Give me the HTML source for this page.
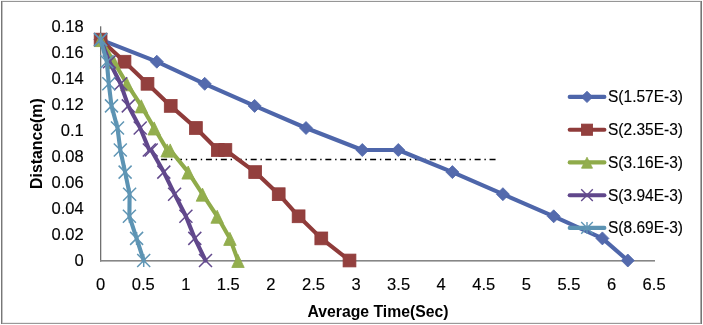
<!DOCTYPE html>
<html><head><meta charset="utf-8"><title>Chart</title>
<style>
html,body{margin:0;padding:0;background:#fff;}
body{width:703px;height:325px;overflow:hidden;font-family:"Liberation Sans",sans-serif;}
svg{display:block;will-change:transform;}
</style></head><body>
<svg width="703" height="325" viewBox="0 0 703 325">
<rect x="0" y="0" width="703" height="325" fill="#fff"/>
<g shape-rendering="crispEdges">
<rect x="1" y="0" width="701" height="1" fill="#f2f2f2"/>
<rect x="1" y="1" width="701" height="1" fill="#969696"/>
<rect x="1" y="322" width="701" height="1" fill="#ececec"/>
<rect x="1" y="323" width="701" height="1" fill="#999999"/>
<rect x="1" y="1" width="1" height="323" fill="#777777"/>
<rect x="2" y="2" width="1" height="321" fill="#c4c4c4"/>
<rect x="700" y="2" width="1" height="321" fill="#ababab"/>
<rect x="701" y="1" width="1" height="323" fill="#757575"/>
</g>
<rect x="100" y="26.3" width="1.3" height="235.3" fill="#707070"/>
<rect x="100" y="260" width="555" height="1.6" fill="#868686"/>
<line x1="161.1" y1="159.5" x2="495.8" y2="159.5" stroke="#000" stroke-width="1.5" stroke-dasharray="6,3.8,1.4,3.73"/>
<polyline points="100.6,39.6 156.8,61.7 204.7,83.8 254.6,105.9 306.0,128.0 362.3,150.0 398.3,150.0 452.4,172.1 502.9,194.2 553.7,216.3 602.4,238.4 627.8,260.5" fill="none" stroke="#4e66aa" stroke-width="4.1" stroke-linejoin="round" stroke-linecap="round"/>
<path d="M100.6,33.1 L107.1,39.6 L100.6,46.1 L94.1,39.6Z" fill="#546aad" stroke="#4e66aa" stroke-width="0.8"/>
<path d="M156.8,55.2 L163.3,61.7 L156.8,68.2 L150.3,61.7Z" fill="#546aad" stroke="#4e66aa" stroke-width="0.8"/>
<path d="M204.7,77.3 L211.2,83.8 L204.7,90.3 L198.2,83.8Z" fill="#546aad" stroke="#4e66aa" stroke-width="0.8"/>
<path d="M254.6,99.4 L261.1,105.9 L254.6,112.4 L248.1,105.9Z" fill="#546aad" stroke="#4e66aa" stroke-width="0.8"/>
<path d="M306.0,121.5 L312.5,128.0 L306.0,134.5 L299.5,128.0Z" fill="#546aad" stroke="#4e66aa" stroke-width="0.8"/>
<path d="M362.3,143.5 L368.8,150.0 L362.3,156.5 L355.8,150.0Z" fill="#546aad" stroke="#4e66aa" stroke-width="0.8"/>
<path d="M398.3,143.5 L404.8,150.0 L398.3,156.5 L391.8,150.0Z" fill="#546aad" stroke="#4e66aa" stroke-width="0.8"/>
<path d="M452.4,165.6 L458.9,172.1 L452.4,178.6 L445.9,172.1Z" fill="#546aad" stroke="#4e66aa" stroke-width="0.8"/>
<path d="M502.9,187.7 L509.4,194.2 L502.9,200.7 L496.4,194.2Z" fill="#546aad" stroke="#4e66aa" stroke-width="0.8"/>
<path d="M553.7,209.8 L560.2,216.3 L553.7,222.8 L547.2,216.3Z" fill="#546aad" stroke="#4e66aa" stroke-width="0.8"/>
<path d="M602.4,231.9 L608.9,238.4 L602.4,244.9 L595.9,238.4Z" fill="#546aad" stroke="#4e66aa" stroke-width="0.8"/>
<path d="M627.8,254.0 L634.3,260.5 L627.8,267.0 L621.3,260.5Z" fill="#546aad" stroke="#4e66aa" stroke-width="0.8"/>
<polyline points="100.6,39.6 124.5,61.7 147.5,83.8 170.7,105.9 195.9,128.0 217.8,150.0 225.4,150.0 255.2,172.1 278.7,194.2 298.6,216.3 321.3,238.4 349.5,260.5" fill="none" stroke="#8f3b3a" stroke-width="4.1" stroke-linejoin="round" stroke-linecap="round"/>
<rect x="94.2" y="33.2" width="12.8" height="12.8" fill="#93403e" stroke="#8f3b3a" stroke-width="0.8"/>
<rect x="118.1" y="55.3" width="12.8" height="12.8" fill="#93403e" stroke="#8f3b3a" stroke-width="0.8"/>
<rect x="141.1" y="77.4" width="12.8" height="12.8" fill="#93403e" stroke="#8f3b3a" stroke-width="0.8"/>
<rect x="164.3" y="99.5" width="12.8" height="12.8" fill="#93403e" stroke="#8f3b3a" stroke-width="0.8"/>
<rect x="189.5" y="121.6" width="12.8" height="12.8" fill="#93403e" stroke="#8f3b3a" stroke-width="0.8"/>
<rect x="211.4" y="143.6" width="12.8" height="12.8" fill="#93403e" stroke="#8f3b3a" stroke-width="0.8"/>
<rect x="219.0" y="143.6" width="12.8" height="12.8" fill="#93403e" stroke="#8f3b3a" stroke-width="0.8"/>
<rect x="248.8" y="165.7" width="12.8" height="12.8" fill="#93403e" stroke="#8f3b3a" stroke-width="0.8"/>
<rect x="272.3" y="187.8" width="12.8" height="12.8" fill="#93403e" stroke="#8f3b3a" stroke-width="0.8"/>
<rect x="292.2" y="209.9" width="12.8" height="12.8" fill="#93403e" stroke="#8f3b3a" stroke-width="0.8"/>
<rect x="314.9" y="232.0" width="12.8" height="12.8" fill="#93403e" stroke="#8f3b3a" stroke-width="0.8"/>
<rect x="343.1" y="254.1" width="12.8" height="12.8" fill="#93403e" stroke="#8f3b3a" stroke-width="0.8"/>
<polyline points="100.6,39.6 113.8,61.7 126.9,83.8 141.3,105.9 154.2,128.0 167.2,150.0 170.2,150.0 188.2,172.1 202.5,194.2 217.2,216.3 229.9,238.4 238.0,260.5" fill="none" stroke="#8fab4a" stroke-width="4.1" stroke-linejoin="round" stroke-linecap="round"/>
<path d="M100.6,33.5 L106.8,46.6 L94.3,46.6Z" fill="#93ae4e" stroke="#8fab4a" stroke-width="0.8"/>
<path d="M113.8,55.6 L120.0,68.7 L107.5,68.7Z" fill="#93ae4e" stroke="#8fab4a" stroke-width="0.8"/>
<path d="M126.9,77.7 L133.2,90.8 L120.7,90.8Z" fill="#93ae4e" stroke="#8fab4a" stroke-width="0.8"/>
<path d="M141.3,99.8 L147.6,112.9 L135.1,112.9Z" fill="#93ae4e" stroke="#8fab4a" stroke-width="0.8"/>
<path d="M154.2,121.9 L160.4,135.0 L147.9,135.0Z" fill="#93ae4e" stroke="#8fab4a" stroke-width="0.8"/>
<path d="M167.2,143.9 L173.4,157.0 L160.9,157.0Z" fill="#93ae4e" stroke="#8fab4a" stroke-width="0.8"/>
<path d="M170.2,143.9 L176.4,157.0 L163.9,157.0Z" fill="#93ae4e" stroke="#8fab4a" stroke-width="0.8"/>
<path d="M188.2,166.0 L194.4,179.1 L181.9,179.1Z" fill="#93ae4e" stroke="#8fab4a" stroke-width="0.8"/>
<path d="M202.5,188.1 L208.8,201.2 L196.2,201.2Z" fill="#93ae4e" stroke="#8fab4a" stroke-width="0.8"/>
<path d="M217.2,210.2 L223.4,223.3 L210.9,223.3Z" fill="#93ae4e" stroke="#8fab4a" stroke-width="0.8"/>
<path d="M229.9,232.3 L236.2,245.4 L223.7,245.4Z" fill="#93ae4e" stroke="#8fab4a" stroke-width="0.8"/>
<path d="M238.0,254.4 L244.2,267.5 L231.8,267.5Z" fill="#93ae4e" stroke="#8fab4a" stroke-width="0.8"/>
<polyline points="100.6,39.6 109.4,61.7 120.6,83.8 128.3,105.9 140.2,128.0 149.3,150.0 151.2,150.0 163.8,172.1 174.6,194.2 185.9,216.3 194.8,238.4 205.5,260.5" fill="none" stroke="#60478b" stroke-width="4.1" stroke-linejoin="round" stroke-linecap="round"/>
<path d="M94.1,33.1 L107.1,46.1 M94.1,46.1 L107.1,33.1" stroke="#634a8d" stroke-width="1.5" fill="none"/>
<path d="M102.9,55.2 L115.9,68.2 M102.9,68.2 L115.9,55.2" stroke="#634a8d" stroke-width="1.5" fill="none"/>
<path d="M114.1,77.3 L127.1,90.3 M114.1,90.3 L127.1,77.3" stroke="#634a8d" stroke-width="1.5" fill="none"/>
<path d="M121.8,99.4 L134.8,112.4 M121.8,112.4 L134.8,99.4" stroke="#634a8d" stroke-width="1.5" fill="none"/>
<path d="M133.7,121.5 L146.7,134.5 M133.7,134.5 L146.7,121.5" stroke="#634a8d" stroke-width="1.5" fill="none"/>
<path d="M142.8,143.5 L155.8,156.5 M142.8,156.5 L155.8,143.5" stroke="#634a8d" stroke-width="1.5" fill="none"/>
<path d="M144.7,143.5 L157.7,156.5 M144.7,156.5 L157.7,143.5" stroke="#634a8d" stroke-width="1.5" fill="none"/>
<path d="M157.3,165.6 L170.3,178.6 M157.3,178.6 L170.3,165.6" stroke="#634a8d" stroke-width="1.5" fill="none"/>
<path d="M168.1,187.7 L181.1,200.7 M168.1,200.7 L181.1,187.7" stroke="#634a8d" stroke-width="1.5" fill="none"/>
<path d="M179.4,209.8 L192.4,222.8 M179.4,222.8 L192.4,209.8" stroke="#634a8d" stroke-width="1.5" fill="none"/>
<path d="M188.3,231.9 L201.3,244.9 M188.3,244.9 L201.3,231.9" stroke="#634a8d" stroke-width="1.5" fill="none"/>
<path d="M199.0,254.0 L212.0,267.0 M199.0,267.0 L212.0,254.0" stroke="#634a8d" stroke-width="1.5" fill="none"/>
<polyline points="100.6,39.6 106.8,61.7 108.8,83.8 111.5,105.9 117.5,128.0 120.3,150.0 125.1,172.1 129.6,194.2 129.4,216.3 136.6,238.4 143.7,260.5" fill="none" stroke="#5c93b3" stroke-width="4.1" stroke-linejoin="round" stroke-linecap="round"/>
<path d="M94.1,33.1 L107.1,46.1 M94.1,46.1 L107.1,33.1 M100.6,33.1 L100.6,46.1" stroke="#6096b5" stroke-width="1.5" fill="none"/>
<path d="M100.3,55.2 L113.3,68.2 M100.3,68.2 L113.3,55.2 M106.8,55.2 L106.8,68.2" stroke="#6096b5" stroke-width="1.5" fill="none"/>
<path d="M102.3,77.3 L115.3,90.3 M102.3,90.3 L115.3,77.3 M108.8,77.3 L108.8,90.3" stroke="#6096b5" stroke-width="1.5" fill="none"/>
<path d="M105.0,99.4 L118.0,112.4 M105.0,112.4 L118.0,99.4 M111.5,99.4 L111.5,112.4" stroke="#6096b5" stroke-width="1.5" fill="none"/>
<path d="M111.0,121.5 L124.0,134.5 M111.0,134.5 L124.0,121.5 M117.5,121.5 L117.5,134.5" stroke="#6096b5" stroke-width="1.5" fill="none"/>
<path d="M113.8,143.5 L126.8,156.5 M113.8,156.5 L126.8,143.5 M120.3,143.5 L120.3,156.5" stroke="#6096b5" stroke-width="1.5" fill="none"/>
<path d="M118.6,165.6 L131.6,178.6 M118.6,178.6 L131.6,165.6 M125.1,165.6 L125.1,178.6" stroke="#6096b5" stroke-width="1.5" fill="none"/>
<path d="M123.1,187.7 L136.1,200.7 M123.1,200.7 L136.1,187.7 M129.6,187.7 L129.6,200.7" stroke="#6096b5" stroke-width="1.5" fill="none"/>
<path d="M122.9,209.8 L135.9,222.8 M122.9,222.8 L135.9,209.8 M129.4,209.8 L129.4,222.8" stroke="#6096b5" stroke-width="1.5" fill="none"/>
<path d="M130.1,231.9 L143.1,244.9 M130.1,244.9 L143.1,231.9 M136.6,231.9 L136.6,244.9" stroke="#6096b5" stroke-width="1.5" fill="none"/>
<path d="M137.2,254.0 L150.2,267.0 M137.2,267.0 L150.2,254.0 M143.7,254.0 L143.7,267.0" stroke="#6096b5" stroke-width="1.5" fill="none"/>
<g opacity="0.999">
<text x="74.5" y="265.9" font-family="Liberation Sans, sans-serif" font-size="16.3" fill="#000" stroke="#000" stroke-width="0.15" textLength="9.2" lengthAdjust="spacingAndGlyphs">0</text>
<text x="51.5" y="239.9" font-family="Liberation Sans, sans-serif" font-size="16.3" fill="#000" stroke="#000" stroke-width="0.15" textLength="32.2" lengthAdjust="spacingAndGlyphs">0.02</text>
<text x="51.5" y="213.9" font-family="Liberation Sans, sans-serif" font-size="16.3" fill="#000" stroke="#000" stroke-width="0.15" textLength="32.2" lengthAdjust="spacingAndGlyphs">0.04</text>
<text x="51.5" y="187.9" font-family="Liberation Sans, sans-serif" font-size="16.3" fill="#000" stroke="#000" stroke-width="0.15" textLength="32.2" lengthAdjust="spacingAndGlyphs">0.06</text>
<text x="51.5" y="161.9" font-family="Liberation Sans, sans-serif" font-size="16.3" fill="#000" stroke="#000" stroke-width="0.15" textLength="32.2" lengthAdjust="spacingAndGlyphs">0.08</text>
<text x="60.7" y="135.9" font-family="Liberation Sans, sans-serif" font-size="16.3" fill="#000" stroke="#000" stroke-width="0.15" textLength="23.0" lengthAdjust="spacingAndGlyphs">0.1</text>
<text x="51.5" y="109.9" font-family="Liberation Sans, sans-serif" font-size="16.3" fill="#000" stroke="#000" stroke-width="0.15" textLength="32.2" lengthAdjust="spacingAndGlyphs">0.12</text>
<text x="51.5" y="83.9" font-family="Liberation Sans, sans-serif" font-size="16.3" fill="#000" stroke="#000" stroke-width="0.15" textLength="32.2" lengthAdjust="spacingAndGlyphs">0.14</text>
<text x="51.5" y="57.9" font-family="Liberation Sans, sans-serif" font-size="16.3" fill="#000" stroke="#000" stroke-width="0.15" textLength="32.2" lengthAdjust="spacingAndGlyphs">0.16</text>
<text x="51.5" y="31.9" font-family="Liberation Sans, sans-serif" font-size="16.3" fill="#000" stroke="#000" stroke-width="0.15" textLength="32.2" lengthAdjust="spacingAndGlyphs">0.18</text>
<text x="96.0" y="289.6" font-family="Liberation Sans, sans-serif" font-size="16.3" fill="#000" stroke="#000" stroke-width="0.15" textLength="9.2" lengthAdjust="spacingAndGlyphs">0</text>
<text x="131.7" y="289.6" font-family="Liberation Sans, sans-serif" font-size="16.3" fill="#000" stroke="#000" stroke-width="0.15" textLength="23.0" lengthAdjust="spacingAndGlyphs">0.5</text>
<text x="181.2" y="289.6" font-family="Liberation Sans, sans-serif" font-size="16.3" fill="#000" stroke="#000" stroke-width="0.15" textLength="9.2" lengthAdjust="spacingAndGlyphs">1</text>
<text x="216.8" y="289.6" font-family="Liberation Sans, sans-serif" font-size="16.3" fill="#000" stroke="#000" stroke-width="0.15" textLength="23.0" lengthAdjust="spacingAndGlyphs">1.5</text>
<text x="266.3" y="289.6" font-family="Liberation Sans, sans-serif" font-size="16.3" fill="#000" stroke="#000" stroke-width="0.15" textLength="9.2" lengthAdjust="spacingAndGlyphs">2</text>
<text x="302.0" y="289.6" font-family="Liberation Sans, sans-serif" font-size="16.3" fill="#000" stroke="#000" stroke-width="0.15" textLength="23.0" lengthAdjust="spacingAndGlyphs">2.5</text>
<text x="351.4" y="289.6" font-family="Liberation Sans, sans-serif" font-size="16.3" fill="#000" stroke="#000" stroke-width="0.15" textLength="9.2" lengthAdjust="spacingAndGlyphs">3</text>
<text x="387.1" y="289.6" font-family="Liberation Sans, sans-serif" font-size="16.3" fill="#000" stroke="#000" stroke-width="0.15" textLength="23.0" lengthAdjust="spacingAndGlyphs">3.5</text>
<text x="436.6" y="289.6" font-family="Liberation Sans, sans-serif" font-size="16.3" fill="#000" stroke="#000" stroke-width="0.15" textLength="9.2" lengthAdjust="spacingAndGlyphs">4</text>
<text x="472.3" y="289.6" font-family="Liberation Sans, sans-serif" font-size="16.3" fill="#000" stroke="#000" stroke-width="0.15" textLength="23.0" lengthAdjust="spacingAndGlyphs">4.5</text>
<text x="521.8" y="289.6" font-family="Liberation Sans, sans-serif" font-size="16.3" fill="#000" stroke="#000" stroke-width="0.15" textLength="9.2" lengthAdjust="spacingAndGlyphs">5</text>
<text x="557.4" y="289.6" font-family="Liberation Sans, sans-serif" font-size="16.3" fill="#000" stroke="#000" stroke-width="0.15" textLength="23.0" lengthAdjust="spacingAndGlyphs">5.5</text>
<text x="606.9" y="289.6" font-family="Liberation Sans, sans-serif" font-size="16.3" fill="#000" stroke="#000" stroke-width="0.15" textLength="9.2" lengthAdjust="spacingAndGlyphs">6</text>
<text x="642.6" y="289.6" font-family="Liberation Sans, sans-serif" font-size="16.3" fill="#000" stroke="#000" stroke-width="0.15" textLength="23.0" lengthAdjust="spacingAndGlyphs">6.5</text>
<text x="307.5" y="317.0" font-family="Liberation Sans, sans-serif" font-size="16.2" font-weight="bold" fill="#000" textLength="141" lengthAdjust="spacingAndGlyphs">Average Time(Sec)</text>
<text transform="translate(41.9,188.9) rotate(-90)" font-family="Liberation Sans, sans-serif" font-size="16.2" font-weight="bold" fill="#000" textLength="90.6" lengthAdjust="spacingAndGlyphs">Distance(m)</text>
<line x1="569.7" y1="96.9" x2="604.4" y2="96.9" stroke="#4e66aa" stroke-width="4.1" stroke-linecap="round"/>
<path d="M587.0,91.2 L592.7,96.9 L587.0,102.6 L581.3,96.9Z" fill="#546aad" stroke="#4e66aa" stroke-width="0.8"/>
<text x="608.0" y="102.3" font-family="Liberation Sans, sans-serif" font-size="16.3" fill="#000" stroke="#000" stroke-width="0.15" textLength="75.0" lengthAdjust="spacingAndGlyphs">S(1.57E-3)</text>
<line x1="569.7" y1="129.7" x2="604.4" y2="129.7" stroke="#8f3b3a" stroke-width="4.1" stroke-linecap="round"/>
<rect x="581.4" y="124.1" width="11.2" height="11.2" fill="#93403e" stroke="#8f3b3a" stroke-width="0.8"/>
<text x="608.0" y="135.1" font-family="Liberation Sans, sans-serif" font-size="16.3" fill="#000" stroke="#000" stroke-width="0.15" textLength="75.0" lengthAdjust="spacingAndGlyphs">S(2.35E-3)</text>
<line x1="569.7" y1="162.4" x2="604.4" y2="162.4" stroke="#8fab4a" stroke-width="4.1" stroke-linecap="round"/>
<path d="M587.0,157.2 L592.5,168.2 L581.5,168.2Z" fill="#93ae4e" stroke="#8fab4a" stroke-width="0.8"/>
<text x="608.0" y="167.8" font-family="Liberation Sans, sans-serif" font-size="16.3" fill="#000" stroke="#000" stroke-width="0.15" textLength="75.0" lengthAdjust="spacingAndGlyphs">S(3.16E-3)</text>
<line x1="569.7" y1="195.2" x2="604.4" y2="195.2" stroke="#60478b" stroke-width="4.1" stroke-linecap="round"/>
<path d="M581.2,189.3 L592.8,201.0 M581.2,201.0 L592.8,189.3" stroke="#634a8d" stroke-width="1.4" fill="none"/>
<text x="608.0" y="200.6" font-family="Liberation Sans, sans-serif" font-size="16.3" fill="#000" stroke="#000" stroke-width="0.15" textLength="75.0" lengthAdjust="spacingAndGlyphs">S(3.94E-3)</text>
<line x1="569.7" y1="227.9" x2="604.4" y2="227.9" stroke="#5c93b3" stroke-width="4.1" stroke-linecap="round"/>
<path d="M581.2,222.1 L592.8,233.7 M581.2,233.7 L592.8,222.1 M587.0,222.1 L587.0,233.7" stroke="#6096b5" stroke-width="1.4" fill="none"/>
<text x="608.0" y="233.3" font-family="Liberation Sans, sans-serif" font-size="16.3" fill="#000" stroke="#000" stroke-width="0.15" textLength="75.0" lengthAdjust="spacingAndGlyphs">S(8.69E-3)</text>
</g>
</svg>
</body></html>
